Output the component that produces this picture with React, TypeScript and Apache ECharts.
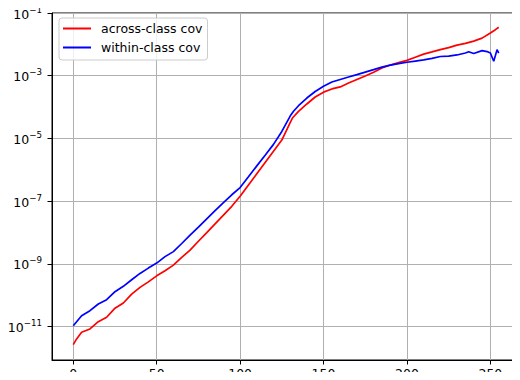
import React, { useEffect, useRef } from "react";
import * as echarts from "echarts";

const acrossX = [0, 2, 5, 10, 15, 20, 25, 30, 35, 40, 45, 50, 55, 60, 65, 70, 75, 80, 85, 90, 95, 100, 105, 110, 115, 120, 125, 130, 131.5, 135, 140, 145, 150, 155, 160, 165, 170, 175, 180, 185, 190, 195, 200, 205, 210, 215, 220, 225, 230, 235, 240, 245, 250, 253, 255];
const acrossY = [2.7e-12, 4.1e-12, 6.7e-12, 8.5e-12, 1.45e-11, 2.0e-11, 3.9e-11, 5.7e-11, 1.1e-10, 1.8e-10, 2.7e-10, 4.2e-10, 6.1e-10, 9.2e-10, 1.62e-9, 2.77e-9, 5.3e-9, 1.0e-8, 1.91e-8, 3.6e-8, 6.9e-8, 1.44e-7, 3.3e-7, 7.5e-7, 1.71e-6, 3.9e-6, 8.9e-6, 3.2e-5, 4.6e-5, 7.3e-5, 1.26e-4, 2.1e-4, 3.0e-4, 3.8e-4, 4.4e-4, 5.9e-4, 7.6e-4, 9.8e-4, 1.29e-3, 1.76e-3, 2.19e-3, 2.63e-3, 3.1e-3, 3.9e-3, 4.9e-3, 5.75e-3, 6.8e-3, 7.9e-3, 9.5e-3, 1.08e-2, 1.27e-2, 1.58e-2, 2.31e-2, 2.94e-2, 3.5e-2];

const withinX = [0, 5, 10, 15, 20, 25, 30, 35, 40, 45, 50, 55, 60, 65, 70, 75, 80, 85, 90, 95, 100, 105, 110, 115, 120, 125, 130, 132, 135, 140, 145, 150, 155, 160, 165, 170, 175, 180, 185, 190, 195, 200, 205, 210, 215, 220, 225, 230, 235, 237, 240, 245, 248, 250, 252, 253, 254, 255];
const withinY = [1.08e-11, 2.25e-11, 3.25e-11, 5.3e-11, 7.3e-11, 1.31e-10, 1.94e-10, 3.15e-10, 5.0e-10, 7.4e-10, 1.07e-9, 1.72e-9, 2.48e-9, 4.5e-9, 8.3e-9, 1.5e-8, 2.74e-8, 5.0e-8, 9.1e-8, 1.61e-7, 2.73e-7, 6.0e-7, 1.34e-6, 2.94e-6, 6.5e-6, 1.68e-5, 5.2e-5, 7.4e-5, 1.11e-4, 1.95e-4, 3.15e-4, 4.6e-4, 6.31e-4, 7.6e-4, 9.1e-4, 1.09e-3, 1.31e-3, 1.57e-3, 1.89e-3, 2.19e-3, 2.44e-3, 2.69e-3, 2.93e-3, 3.2e-3, 3.6e-3, 4.1e-3, 4.2e-3, 4.6e-3, 5.3e-3, 5.8e-3, 5.1e-3, 6.3e-3, 5.9e-3, 5.3e-3, 2.9e-3, 4.4e-3, 6.8e-3, 5.3e-3];

const seriesNames = ["across-class cov", "within-class cov"];
const xTicks = [0, 50, 100, 150, 200, 250];
const yTickExponents = [-11, -9, -7, -5, -3, -1];

const FONT = "DejaVu Sans";

export default function App() {
  const ref = useRef<HTMLDivElement>(null);
  useEffect(() => {
    if (!ref.current) return;
    const chart = echarts.init(ref.current, null, { renderer: "svg" });
    const toPts = (xs: number[], ys: number[]) => xs.map((x, i) => [x, Math.log10(ys[i])]);
    chart.setOption({
      animation: false,
      backgroundColor: "#ffffff",
      textStyle: { fontFamily: FONT },
      grid: {
        left: 52,
        right: -1,
        top: 13,
        bottom: 19,
        show: true,
        borderColor: "#000000",
        borderWidth: 1,
        containLabel: false,
      },
      legend: {
        orient: "vertical",
        left: 59,
        top: 18,
        padding: [4, 5, 6, 4],
        itemGap: 6,
        itemWidth: 28,
        itemHeight: 2,
        icon: "rect",
        backgroundColor: "rgba(255,255,255,0.8)",
        borderColor: "#cccccc",
        borderWidth: 1,
        borderRadius: 3,
        textStyle: { fontFamily: FONT, fontSize: 12.5, color: "#000", padding: [0, 0, 0, 5] },
        data: seriesNames,
      },
      xAxis: {
        type: "value",
        min: -12.75,
        max: 267.75,
        axisLine: { show: true, onZero: false, lineStyle: { color: "#000", width: 1 } },
        axisTick: { show: true, length: 4.5, customValues: xTicks, lineStyle: { color: "#000" } },
        axisLabel: { customValues: xTicks, fontFamily: FONT, fontSize: 12.5, color: "#000", margin: 7 },
        splitLine: { show: true, lineStyle: { color: "#b0b0b0", width: 1 } },
      },
      yAxis: {
        type: "value",
        min: -12.06,
        max: -1,
        axisLine: { show: true, onZero: false, lineStyle: { color: "#000", width: 1 } },
        axisTick: { show: true, length: 4.5, customValues: yTickExponents, lineStyle: { color: "#000" } },
        axisLabel: {
          customValues: yTickExponents,
          margin: 10,
          formatter: (v: number) => `{b|10}{s|\u2212${Math.round(-v)}}`,
          rich: {
            b: { fontFamily: FONT, fontSize: 12.5, color: "#000", padding: [2, 0, 0, 0] },
            s: { fontFamily: FONT, fontSize: 8.7, color: "#000", padding: [0, 0, 7, 0] },
          },
        },
        splitLine: { show: true, lineStyle: { color: "#b0b0b0", width: 1 } },
      },
      series: [
        {
          name: seriesNames[0],
          type: "line",
          data: toPts(acrossX, acrossY),
          showSymbol: false,
          color: "#ff0000",
          lineStyle: { color: "#ff0000", width: 1.7 },
        },
        {
          name: seriesNames[1],
          type: "line",
          data: toPts(withinX, withinY),
          showSymbol: false,
          color: "#0000ff",
          lineStyle: { color: "#0000ff", width: 1.7 },
        },
      ],
    });
    return () => chart.dispose();
  }, []);
  return <div ref={ref} style={{ width: 520, height: 380, margin: -8 }} />;
}
